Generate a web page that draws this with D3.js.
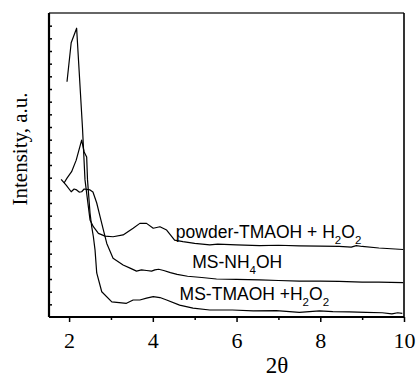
<!DOCTYPE html>
<html>
<head>
<meta charset="utf-8">
<script src="https://cdn.jsdelivr.net/npm/d3@7"></script>
<style>
  html, body { margin: 0; padding: 0; background: #fff; }
  svg { display: block; }
</style>
</head>
<body>
<svg id="chart" width="417" height="380"></svg>
<script>
// ---- data (2θ, intensity a.u.) ----
const powderX = [1.95, 2.05, 2.18, 2.32, 2.38, 2.46, 2.50, 2.58, 2.70, 2.86, 3.05, 3.29, 3.53, 3.69, 3.85, 4.01, 4.17, 4.33, 4.52, 4.72, 5.00, 5.36, 5.55, 6.00, 6.55, 7.00, 7.50, 8.00, 8.45, 8.74, 8.86, 9.00, 9.40, 9.98];
const powderY = [77.4, 90.2, 95.0, 62.2, 45.1, 36.3, 31.9, 29.7, 27.5, 26.6, 26.4, 27.0, 29.2, 30.8, 30.8, 29.2, 29.7, 28.6, 25.3, 24.8, 24.2, 23.7, 24.0, 23.7, 23.5, 23.6, 23.4, 23.3, 23.2, 23.0, 23.5, 23.2, 22.7, 22.2];

const nh4X = [1.81, 1.93, 2.05, 2.12, 2.18, 2.24, 2.30, 2.36, 2.42, 2.50, 2.57, 2.66, 2.74, 2.82, 2.90, 3.05, 3.29, 3.47, 3.61, 3.73, 3.85, 3.97, 4.05, 4.14, 4.26, 4.42, 4.58, 4.83, 5.17, 5.52, 6.00, 6.55, 7.00, 7.50, 8.00, 8.45, 9.00, 9.40, 9.98];
const nh4Y = [45.3, 43.4, 41.2, 42.1, 41.8, 41.1, 41.2, 42.1, 42.0, 41.8, 41.1, 37.5, 33.0, 28.6, 24.2, 19.3, 17.1, 16.0, 15.1, 15.5, 15.3, 15.1, 15.5, 15.7, 15.3, 14.6, 14.0, 13.4, 13.0, 12.5, 12.4, 12.2, 12.0, 11.8, 11.8, 11.7, 11.5, 11.5, 11.3];

const tmaohX = [1.88, 1.95, 2.06, 2.17, 2.30, 2.36, 2.42, 2.44, 2.50, 2.54, 2.58, 2.62, 2.66, 2.78, 3.02, 3.37, 3.53, 3.69, 3.85, 4.01, 4.17, 4.33, 4.64, 4.96, 5.36, 5.90, 6.40, 6.95, 7.50, 7.98, 8.30, 8.69, 9.09, 9.48, 9.71, 9.85, 9.96];
const tmaohY = [44.1, 45.7, 47.8, 51.6, 58.2, 54.3, 52.6, 45.1, 34.2, 29.7, 26.4, 22.0, 14.5, 8.3, 5.0, 4.5, 5.6, 5.6, 6.2, 6.7, 6.4, 5.6, 3.9, 2.9, 2.3, 2.3, 2.0, 2.1, 1.5, 2.0, 1.8, 1.7, 1.5, 1.4, 1.0, 1.4, 1.2];

const xTickValues = [2, 4, 6, 8, 10];
const xMinorTicks = [3, 5, 7, 9];
const xTickLabels = ["2", "4", "6", "8", "10"];
const xTitle = "2θ";
const yTitle = "Intensity, a.u.";

const series = [
  { x: powderX, y: powderY, label: ["powder-TMAOH + H", "2", "O", "2"], lx: 4.55, ly: 26.0 },
  { x: nh4X, y: nh4Y, label: ["MS-NH", "4", "OH"], lx: 4.94, ly: 16.2 },
  { x: tmaohX, y: tmaohY, label: ["MS-TMAOH +H", "2", "O", "2"], lx: 4.64, ly: 5.6 }
];

// ---- layout ----
const svg = d3.select("#chart");
const L = 49, R = 404, T = 13, B = 317;
const x = d3.scaleLinear().domain([1.52, 10]).range([L, R]);
const y = d3.scaleLinear().domain([0, 100]).range([B, T]);

// frame top & right
svg.append("line").attr("x1", L).attr("x2", R).attr("y1", T).attr("y2", T)
  .attr("stroke", "#333").attr("stroke-width", 1.6);
svg.append("line").attr("x1", R).attr("x2", R).attr("y1", T).attr("y2", B)
  .attr("stroke", "#000").attr("stroke-width", 1.6);

// x axis
const xAxis = svg.append("g").attr("transform", `translate(0,${B})`)
  .call(d3.axisBottom(x).tickValues(xTickValues).tickFormat((d, i) => xTickLabels[i]).tickSize(5).tickSizeOuter(0));
xAxis.select(".domain").attr("stroke-width", 2).attr("d", `M${L},0H${R}`);
xAxis.selectAll(".tick line").attr("stroke-width", 1.5);
xAxis.selectAll(".tick text")
  .attr("font-family", "Liberation Serif, Times New Roman, serif")
  .attr("font-size", 22).attr("dy", 0).attr("y", 31).attr("fill", "#000");
svg.append("g").attr("transform", `translate(0,${B})`)
  .call(d3.axisBottom(x).tickValues(xMinorTicks).tickFormat("").tickSize(3).tickSizeOuter(0))
  .call(g => g.select(".domain").remove())
  .selectAll(".tick line").attr("stroke-width", 1.5);

// y axis (no labels, inward minor ticks)
const yTickVals = d3.range(1, 24).map(i => i * 100 / 24);
const yAxis = svg.append("g").attr("transform", `translate(${L},0)`)
  .call(d3.axisLeft(y).tickValues(yTickVals).tickFormat("").tickSize(-3).tickSizeOuter(0));
yAxis.select(".domain").attr("stroke-width", 2.2).attr("d", `M0,${T}V${B}`);
yAxis.selectAll(".tick line").attr("stroke-width", 1.5);

// lines
const line = d3.line().x(d => x(d[0])).y(d => y(d[1]));
series.forEach(s => {
  const pts = s.x.map((v, i) => [v, s.y[i]]);
  svg.append("path").datum(pts).attr("d", line)
    .attr("fill", "none").attr("stroke", "#000").attr("stroke-width", 1.2)
    .attr("stroke-linejoin", "round");
});

// labels with subscripts
series.forEach(s => {
  const t = svg.append("text")
    .attr("x", x(s.lx)).attr("y", y(s.ly))
    .attr("font-family", "Liberation Sans, Arial, Helvetica, sans-serif")
    .attr("font-size", 17.5).attr("fill", "#000");
  s.label.forEach((part, i) => {
    const isSub = /^\d$/.test(part);
    t.append("tspan").text(part)
      .attr("font-size", isSub ? 11.5 : 17.5)
      .attr("dy", isSub ? 6 : (i > 0 ? -6 : 0));
  });
});

// axis titles
svg.append("text").attr("x", 277).attr("y", 373).attr("text-anchor", "middle")
  .attr("font-family", "Liberation Serif, Times New Roman, serif").attr("font-size", 23)
  .text(xTitle);
svg.append("text").attr("transform", "translate(27,149) rotate(-90)").attr("text-anchor", "middle")
  .attr("font-family", "Liberation Serif, Times New Roman, serif").attr("font-size", 21)
  .text(yTitle);
</script>
</body>
</html>
